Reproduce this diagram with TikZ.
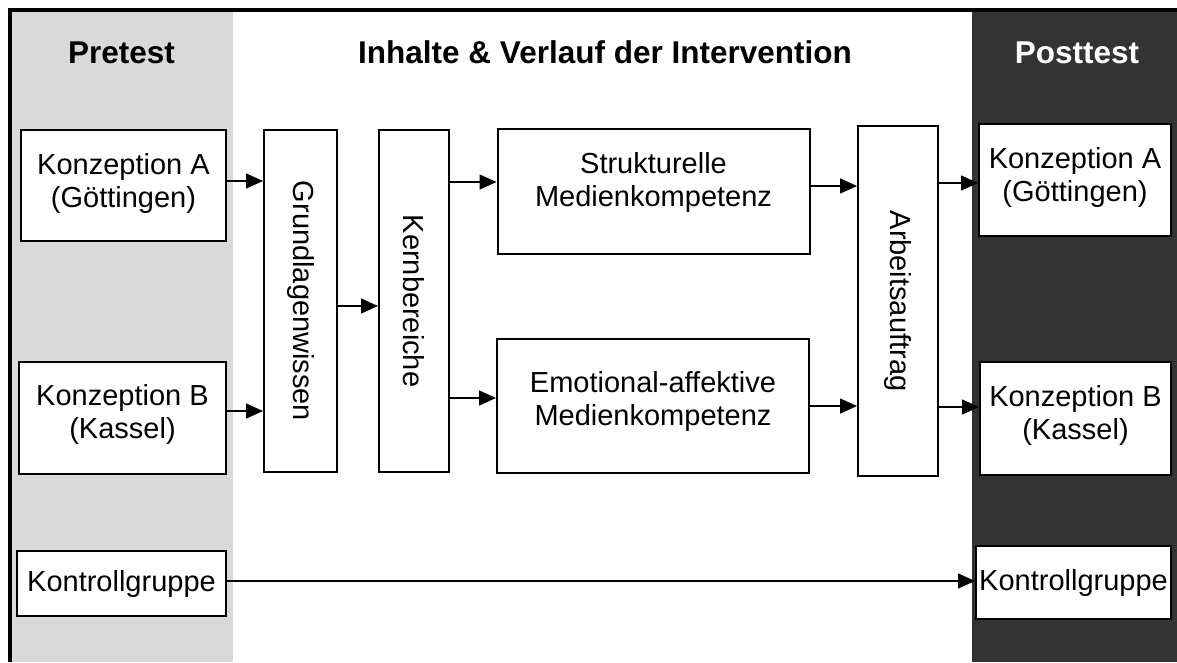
\documentclass[tikz,border=0pt]{standalone}
\usepackage{fontspec}
\setmainfont{Liberation Sans}
\usepackage{tikz}
\usetikzlibrary{arrows.meta, calc, positioning}
\usepackage{xcolor}
\definecolor{PreGray}{RGB}{217,217,217}
\definecolor{PostDark}{RGB}{51,51,51}
\newcommand{\lowstrut}[1]{\rule[-#1]{0pt}{#1}}
\tikzset{%
  box/.style={%
    rectangle,%
    draw=black,%
    line width=2pt,%
    fill=white,%
    inner sep=0pt,%
    align=center,%
    font={\fontsize{29}{33}\selectfont},%
  },
  phase/.style={%
    font={\fontsize{31.5}{36}\selectfont\bfseries},%
  },
  frame/.style={%
    line width=4pt,%
    color=black,%
  },
  arrow/.style={%
    -{Triangle[length=17pt, width=15pt]},%
    line width=1.5pt,%
  },
}

\begin{document}
\begin{tikzpicture}[x=1pt, y=-1pt]

    \useasboundingbox (0,0) rectangle (1177,662);

    % columns
    \fill [PreGray] (11,12) rectangle (233,662);
    \fill [PostDark] (972,12) rectangle (1177,662);
    \draw [frame] (9.5,662) -- (9.5,9.5) -- (1177,9.5);

    \node [phase] (pre_title) at (121.5,52.5) {Pretest};
    \node [phase] (int_title) at (605,52.5) {Inhalte \& Verlauf der Intervention};
    \node [phase, text=white] (post_title) at (1077,52.5) {Posttest};

    % pretest
    \node [box, minimum width=205, minimum height=111] (preA) at (123.5,185.5)
      {Konzeption A\\(Göttingen)\lowstrut{11pt}};
    \node [box, minimum width=207, minimum height=112] (preB) at (122.5,418)
      {Konzeption B\\(Kassel)\lowstrut{14pt}};
    \node [box, minimum width=209, minimum height=65] (preK) at (121.5,583.5)
      {Kontrollgruppe};

    % intervention
    \node [box, minimum width=73, minimum height=342] (grund) at (300.5,301)
      {\rotatebox{-90}{Grundlagenwissen}};
    \node [box, minimum width=70, minimum height=342, right=40pt of grund] (kern)
      {\rotatebox{-90}{Kernbereiche}};
    \node [box, minimum width=312, minimum height=125] (strukt) at (653.5,191.5)
      {Strukturelle\\Medienkompetenz\lowstrut{25pt}};
    \node [box, minimum width=312, minimum height=134] (emot) at (653,406)
      {Emotional-affektive\\Medienkompetenz\lowstrut{16pt}};
    \node [box, minimum width=80, minimum height=350] (arbeit) at (898,301)
      {\rotatebox{-90}{Arbeitsauftrag}};

    % posttest
    \node [box, minimum width=192, minimum height=112] (postA) at (1075,180)
      {Konzeption A\\(Göttingen)\lowstrut{12pt}};
    \node [box, minimum width=191, minimum height=113] (postB) at (1075.5,418.5)
      {Konzeption B\\(Kassel)\lowstrut{13pt}};
    \node [box, minimum width=195, minimum height=73] (postK) at (1073.5,582.5)
      {Kontrollgruppe};

    \coordinate (inA) at ([yshift=4.5pt]preA.east);
    \coordinate (inB) at ([yshift=7pt]preB.east);
    \coordinate (toKern) at ([yshift=-5pt]grund.east);
    \coordinate (toStrukt) at ([yshift=9.5pt]strukt.west);
    \coordinate (toEmot) at ([yshift=8pt]emot.west);
    \coordinate (outStrukt) at ([yshift=5.5pt]strukt.east);
    \coordinate (outEmot) at (emot.east);
    \coordinate (toPostA) at ([yshift=-3pt]postA.west);
    \coordinate (toPostB) at ([yshift=11.5pt]postB.west);
    \coordinate (ctrl) at ([yshift=2.5pt]preK.east);

    \draw [arrow]
      (inA) -- (inA -| grund.west);
    \draw [arrow]
      (inB) -- (inB -| grund.west);
    \draw [arrow]
      (toKern) -- (toKern -| kern.west);
    \draw [arrow]
      (toStrukt -| kern.east) -- (toStrukt);
    \draw [arrow]
      (toEmot -| kern.east) -- (toEmot);
    \draw [arrow]
      (outStrukt) -- (outStrukt -| arbeit.west);
    \draw [arrow]
      (outEmot) -- (outEmot -| arbeit.west);
    \draw [arrow]
      (toPostA -| arbeit.east) -- (toPostA);
    \draw [arrow]
      (toPostB -| arbeit.east) -- (toPostB);
    \draw [arrow]
      (ctrl) -- (ctrl -| postK.west);

\end{tikzpicture}
\end{document}
